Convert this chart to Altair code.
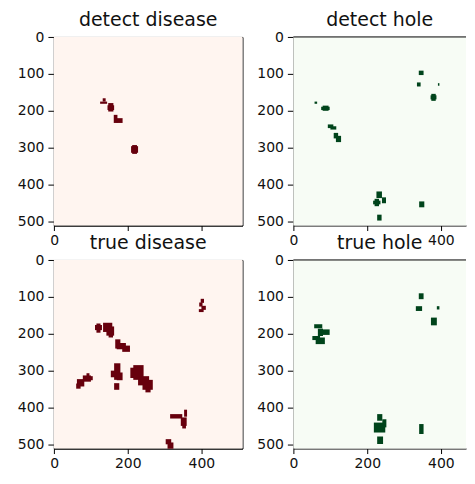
import altair as alt
import pandas as pd

# image extent (pixel edges of a 512x512 mask)
EXTENT = [-0.5, 511.5]
EXTENT_CROPPED = [-0.5, 468.2]   # right-hand panels are cut off by the picture edge
X_TICKS = [0, 200, 400]
Y_TICKS = [0, 100, 200, 300, 400, 500]
TITLES = ["detect disease", "detect hole", "true disease", "true hole"]

# mask cells as (x0, x1, y0, y1) in pixel coordinates
DETECT_DISEASE = [
    (132, 140, 166, 175), (125, 144, 175, 181),
    (147, 161, 179, 202), (145, 163, 185, 198),
    (162, 172, 211, 233), (170, 186, 220, 233),
    (209, 228, 296, 314), (212, 225, 293, 317),
]
DETECT_HOLE = [
    (57, 64, 175, 181),
    (75, 98, 189, 198), (79, 95, 186, 200),
    (93, 108, 237, 247), (100, 116, 242, 251),
    (109, 121, 260, 275), (115, 129, 268, 285),
    (340, 353, 91, 103),
    (335, 345, 123, 134),
    (392, 396, 125, 132),
    (374, 386, 154, 173), (372, 388, 158, 169),
    (225, 240, 419, 437),
    (216, 236, 444, 454), (220, 232, 439, 459),
    (240, 251, 435, 451),
    (227, 239, 482, 498),
    (341, 355, 446, 462),
]
TRUE_DISEASE = [
    (398, 407, 105, 116), (394, 403, 115, 126), (400, 412, 124, 135), (393, 406, 133, 141),
    (111, 130, 176, 190), (115, 126, 172, 197),
    (133, 158, 170, 195), (142, 163, 180, 205), (148, 160, 195, 210),
    (166, 180, 215, 240), (170, 195, 225, 242), (185, 206, 232, 249),
    (163, 180, 280, 325), (154, 172, 300, 318), (170, 186, 305, 326), (163, 177, 334, 352),
    (207, 240, 292, 320), (215, 243, 285, 325),
    (228, 258, 315, 340), (240, 268, 325, 352), (248, 262, 345, 359),
    (62, 82, 323, 343), (60, 72, 335, 349),
    (78, 100, 313, 330), (88, 96, 307, 318), (95, 105, 315, 326),
    (315, 348, 418, 430), (344, 360, 427, 450), (348, 358, 445, 457), (353, 361, 406, 425),
    (303, 318, 486, 500), (308, 324, 495, 512),
]
TRUE_HOLE = [
    (56, 78, 174, 185), (75, 98, 188, 203), (66, 80, 186, 206),
    (51, 72, 206, 217), (60, 85, 210, 228),
    (340, 353, 90, 106),
    (332, 349, 125, 138),
    (389, 396, 125, 134),
    (373, 389, 156, 177),
    (227, 241, 418, 436), (218, 249, 441, 468), (241, 252, 432, 454),
    (227, 243, 479, 499),
    (341, 353, 445, 472),
]

REDS = ["#fff5f0", "#67000d"]
GREENS = ["#f7fcf5", "#00441b"]

FONT = "DejaVu Sans"
PX_PER_UNIT = 189 / 512


def panel(title, cells, colors, label_expr, xext, cropped=False):
    bg = pd.DataFrame({"x0": [xext[0]], "x1": [xext[1]],
                       "y0": [EXTENT[0]], "y1": [EXTENT[1]]})
    fg = pd.DataFrame(cells, columns=["x0", "x1", "y0", "y1"])
    xsc = alt.Scale(domain=xext, nice=False, zero=False)
    ysc = alt.Scale(domain=EXTENT, nice=False, zero=False, reverse=True)
    xaxis = alt.Axis(values=X_TICKS, title=None, labelExpr=label_expr)
    yaxis = alt.Axis(values=Y_TICKS, title=None)
    enc = dict(
        x=alt.X("x0:Q", scale=xsc, axis=xaxis),
        x2="x1:Q",
        y=alt.Y("y0:Q", scale=ysc, axis=yaxis),
        y2="y1:Q",
    )
    back = alt.Chart(bg).mark_rect(color=colors[0], strokeWidth=0).encode(**enc)
    front = alt.Chart(fg).mark_rect(color=colors[1], strokeWidth=0).encode(**enc)
    layers = [back, front]
    w = round((xext[1] - xext[0]) * PX_PER_UNIT)
    props = dict(
        width=w, height=189,
        title=alt.TitleParams(title, fontSize=19, font=FONT, fontWeight="normal",
                              color="#111111", offset=0.5),
    )
    if cropped:
        # top spine only (right spine is outside the picture)
        top = alt.Chart(bg).mark_rule(color="#000000", strokeWidth=1).encode(
            x=alt.X("x0:Q", scale=xsc, axis=xaxis), x2="x1:Q",
            y=alt.Y("y0:Q", scale=ysc, axis=yaxis),
        )
        layers.append(top)
        props["view"] = alt.ViewBackground(stroke="transparent")
    return alt.layer(*layers).properties(**props)


p1 = panel(TITLES[0], DETECT_DISEASE, REDS, "datum.value == 0 ? '0' : ''", EXTENT)
p2 = panel(TITLES[1], DETECT_HOLE, GREENS, "datum.value == 200 ? '' : datum.label",
           EXTENT_CROPPED, cropped=True)
p3 = panel(TITLES[2], TRUE_DISEASE, REDS, "datum.label", EXTENT)
p4 = panel(TITLES[3], TRUE_HOLE, GREENS, "datum.label", EXTENT_CROPPED, cropped=True)

chart = alt.concat(
    p1, p2, p3, p4, columns=2,
    spacing={"row": 34.5, "column": 51}, bounds="flush",
).properties(
    padding={"left": 8, "top": 1.5, "right": 0, "bottom": 0}
).configure_view(
    stroke="#000000", strokeWidth=1
).configure_axis(
    labelFont=FONT, labelFontSize=14, labelColor="#111111",
    tickColor="#000000", domainColor="#000000",
    grid=False, labelFlush=False, labelOverlap=False,
    domainWidth=1, tickWidth=1,
).configure_axisX(
    tickSize=5, labelPadding=3
).configure_axisY(
    tickSize=6, labelPadding=4
)

chart.save("out.html", embed_options={"renderer": "svg", "actions": False})
